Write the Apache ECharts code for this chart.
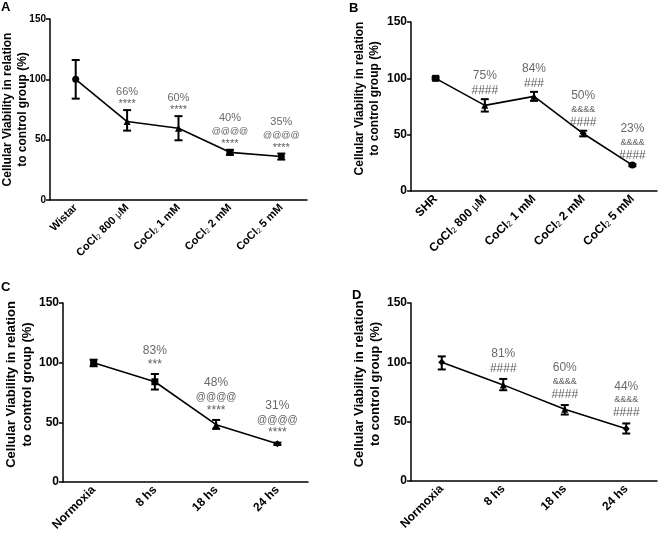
<!DOCTYPE html>
<html>
<head>
<meta charset="utf-8">
<script src="https://cdn.jsdelivr.net/npm/echarts@6/dist/echarts.min.js"></script>
<style>
html,body{margin:0;padding:0;background:#fff}
#box{width:658px;height:539px}
</style>
</head>
<body>
<div id="box"></div>
<script>
// panel A
var catsA = ['Wistar', 'CoCl2 800 μM', 'CoCl2 1 mM', 'CoCl2 2 mM', 'CoCl2 5 mM'];
var meanA = [100, 65, 59.5, 39.5, 36];
var loA = [84, 57.5, 49.5, 37.5, 33.5];
var hiA = [116, 74.5, 69.5, 41.5, 38.5];
var pctA = ['', '66%', '60%', '40%', '35%'];
var sigA = ['', '****', '****', '@@@@\n****', '@@@@\n****'];
// panel B
var catsB = ['SHR', 'CoCl2 800 μM', 'CoCl2 1 mM', 'CoCl2 2 mM', 'CoCl2 5 mM'];
var meanB = [100, 76, 84, 51, 23];
var loB = [99, 70.5, 80, 48.5, 22];
var hiB = [101, 81.5, 88, 53.5, 24];
var pctB = ['', '75%', '84%', '50%', '23%'];
var sigB = ['', '####', '###', '&&&&\n####', '&&&&\n####'];
// panel C
var catsC = ['Normoxia', '8 hs', '18 hs', '24 hs'];
var meanC = [100, 84, 48, 32];
var loC = [97, 77.5, 44.5, 31];
var hiC = [102.5, 90.5, 52, 33];
var pctC = ['', '83%', '48%', '31%'];
var sigC = ['', '***', '@@@@\n****', '@@@@\n****'];
// panel D
var catsD = ['Normoxia', '8 hs', '18 hs', '24 hs'];
var meanD = [100, 81, 60.5, 44];
var loD = [94, 76.5, 56, 40];
var hiD = [105, 86, 64, 48.5];
var pctD = ['', '81%', '60%', '44%'];
var sigD = ['', '####', '&&&&\n####', '&&&&\n####'];

var myChart = echarts.init(document.getElementById('box'));
var FONT = 'Liberation Sans, Arial, sans-serif';

function errItem(params, api) {
  var c = api.value(0);
  var top = api.coord([c, api.value(2)]);
  var bot = api.coord([c, api.value(1)]);
  var w = 4;
  var st = { stroke: '#000', lineWidth: 2 };
  return {
    type: 'group',
    children: [
      { type: 'line', shape: { x1: top[0], y1: top[1], x2: bot[0], y2: bot[1] }, style: st },
      { type: 'line', shape: { x1: top[0] - w, y1: top[1], x2: top[0] + w, y2: top[1] }, style: st },
      { type: 'line', shape: { x1: bot[0] - w, y1: bot[1], x2: bot[0] + w, y2: bot[1] }, style: st }
    ]
  };
}

function labelText(p, s) {
  var out = '{p|' + p + '}';
  s.split('\n').forEach(function (l) {
    var key = l.charAt(0) == '@' ? 'at' : (l.charAt(0) == '&' ? 'amp' : (l.charAt(0) == '#' ? 'h' : 's'));
    out += '\n{' + key + '|' + l + '}';
  });
  return out;
}

var option = { animation: false, grid: [], xAxis: [], yAxis: [], series: [], graphic: [] };

function addPanel(k, box, cats, mean, lo, hi, pct, sig, syms, fs) {
  box.outerBoundsMode = 'none';
  option.grid.push(box);
  var needRich = cats.some(function (c) { return c.indexOf('CoCl2') >= 0; });
  var xl = {
    interval: 0, rotate: 45, margin: 6, hideOverlap: false, color: '#000', fontWeight: 'bold', fontSize: fs.x, fontFamily: FONT
  };
  if (needRich) {
    xl.formatter = function (v) { return v.replace('CoCl2', 'CoCl{s|2}').replace('μ', '{m|μ}'); };
    xl.rich = {
      s: { fontSize: fs.x - 4, fontWeight: 'normal', verticalAlign: 'bottom', color: '#000', fontFamily: FONT },
      m: { fontSize: fs.x - 1, fontWeight: 'normal', color: '#000', fontFamily: FONT }
    };
  }
  option.xAxis.push({
    type: 'category', gridIndex: k, data: cats, boundaryGap: true,
    axisLine: { lineStyle: { color: '#000', width: 1.5 } },
    axisTick: { alignWithLabel: true, length: 4, lineStyle: { color: '#000', width: 1.5 } },
    axisLabel: xl,
    splitLine: { show: false }
  });
  var ya = {
    type: 'value', gridIndex: k, min: 0, max: 150, interval: 50,
    name: 'Cellular Viability in relation\nto control group (%)',
    nameLocation: 'middle', nameGap: fs.gap, nameRotate: 90,
    nameTextStyle: { fontWeight: 'bold', fontSize: fs.n, color: '#000', fontFamily: FONT, lineHeight: fs.n + 3, padding: [0, 0, 0, fs.up] },
    axisLine: { show: true, lineStyle: { color: '#000', width: 1.5 } },
    axisTick: { show: true, length: 4, lineStyle: { color: '#000', width: 1.5 } },
    axisLabel: { color: '#000', fontWeight: 'bold', fontSize: fs.y, margin: 4, fontFamily: FONT },
    splitLine: { show: false }
  };
  if (fs.free) ya.nameMoveOverlap = false;
  option.yAxis.push(ya);
  option.series.push({
    type: 'line', xAxisIndex: k, yAxisIndex: k,
    data: mean.map(function (v, j) { return { value: v, symbol: syms[j] }; }),
    symbolSize: 7, lineStyle: { color: '#000', width: 1.6 },
    itemStyle: { color: '#000' }, z: 3
  });
  option.series.push({
    type: 'custom', xAxisIndex: k, yAxisIndex: k, renderItem: errItem,
    data: cats.map(function (c, j) { return [j, lo[j], hi[j]]; }), z: 4
  });
  var lab = [];
  pct.forEach(function (p, j) { if (p) lab.push({ value: [j, hi[j]], txt: labelText(p, sig[j]) }); });
  option.series.push({
    type: 'scatter', xAxisIndex: k, yAxisIndex: k, symbolSize: 1,
    itemStyle: { color: 'rgba(0,0,0,0)' }, silent: true, z: 5,
    data: lab,
    label: {
      show: true, position: 'top', distance: fs.d, align: 'center',
      formatter: function (p) { return p.data.txt; },
      rich: {
        p: { fontSize: fs.p, color: '#444', fontFamily: FONT, lineHeight: fs.p + 3 },
        s: { fontSize: fs.p, color: '#333', fontFamily: FONT, lineHeight: fs.p },
        h: { fontSize: fs.p, color: '#333', fontFamily: FONT, lineHeight: fs.p + 2 },
        at: { fontSize: fs.p - 2, color: '#333', fontFamily: FONT, lineHeight: fs.p + 2 },
        amp: { fontSize: fs.p - 3, color: '#333', fontFamily: FONT, lineHeight: fs.p }
      }
    }
  });
}

addPanel(0, { left: 50, top: 19, width: 257, height: 181 }, catsA, meanA, loA, hiA, pctA, sigA,
  ['circle', 'triangle', 'triangle', 'rect', 'circle'], { x: 11, y: 10, n: 12, gap: 20, up: 0, p: 11, d: 0, free: true });
addPanel(1, { left: 411, top: 22, width: 246, height: 169 }, catsB, meanB, loB, hiB, pctB, sigB,
  ['rect', 'triangle', 'triangle', 'diamond', 'circle'], { x: 12, y: 12, n: 12, gap: 29, up: 16, p: 12, d: 1 });
addPanel(2, { left: 63, top: 303, width: 245, height: 179 }, catsC, meanC, loC, hiC, pctC, sigC,
  ['rect', 'rect', 'triangle', 'diamond'], { x: 12, y: 12, n: 13, gap: 23, up: 16, p: 12, d: 3 });
addPanel(3, { left: 411, top: 303, width: 246, height: 178 }, catsD, meanD, loD, hiD, pctD, sigD,
  ['diamond', 'triangle', 'triangle', 'diamond'], { x: 12, y: 12, n: 13, gap: 27, up: 16, p: 12, d: 3 });

var letters = [['A', 1, 1], ['B', 349, 2], ['C', 1, 281], ['D', 352, 289]];
letters.forEach(function (l) {
  option.graphic.push({ type: 'text', left: l[1], top: l[2],
    style: { text: l[0], font: 'bold 13px ' + FONT, fill: '#000' } });
});

myChart.setOption(option);
</script>
</body>
</html>
